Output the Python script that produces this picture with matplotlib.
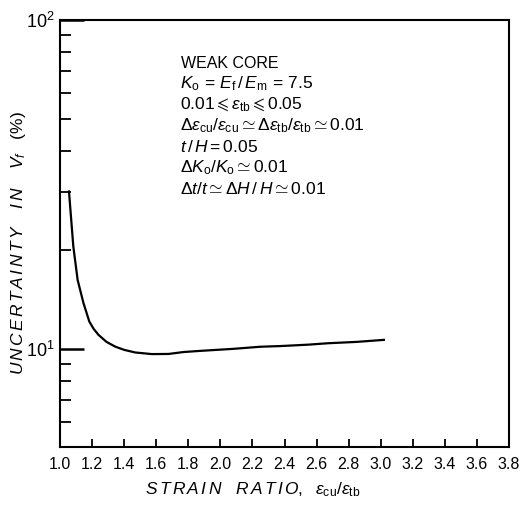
import matplotlib
matplotlib.use("Agg")
import matplotlib.pyplot as plt
from matplotlib import font_manager
from matplotlib.ticker import FixedLocator, NullFormatter, FixedFormatter

# Data
strain_ratio = [1.056, 1.083, 1.11, 1.146, 1.183, 1.21, 1.24, 1.29, 1.344, 1.40, 1.469,
                1.573, 1.677, 1.77, 1.875, 2.08, 2.25, 2.38, 2.55, 2.67, 2.85, 3.02]
uncertainty = [30.1, 20.5, 16.2, 13.8, 12.1, 11.5, 11.03, 10.5, 10.16, 9.93, 9.75,
               9.64, 9.65, 9.78, 9.86, 10.0, 10.15, 10.2, 10.3, 10.4, 10.5, 10.65]
x_ticks = [1.0, 1.2, 1.4, 1.6, 1.8, 2.0, 2.2, 2.4, 2.6, 2.8, 3.0, 3.2, 3.4, 3.6, 3.8]
y_minor = [6, 7, 8, 9, 20, 30, 40, 50, 60, 70, 80, 90]
annotation_title = "WEAK CORE"
annotation_lines = [
    r"$K_\mathrm{o}\,=\,E_\mathrm{f}\,/\,E_\mathrm{m}\,=\,\mathrm{7.5}$",
    r"$\mathrm{0.01}\leqslant\epsilon_\mathrm{tb}\leqslant\mathrm{0.05}$",
    r"$\Delta\epsilon_\mathrm{cu}/\epsilon_\mathrm{cu}\simeq\Delta\epsilon_\mathrm{tb}/\epsilon_\mathrm{tb}\simeq\mathrm{0.01}$",
    r"$t\,/\,H=\mathrm{0.05}$",
    r"$\Delta K_\mathrm{o}/K_\mathrm{o}\simeq\mathrm{0.01}$",
    r"$\Delta t/t\simeq\Delta H\,/\,H\simeq\mathrm{0.01}$",
]

names = {f.name for f in font_manager.fontManager.ttflist}
narrow = 'Liberation Sans Narrow' if 'Liberation Sans Narrow' in names else 'Liberation Sans'

plt.rcParams['font.family'] = ['Liberation Sans', 'DejaVu Sans']
plt.rcParams['mathtext.fontset'] = 'custom'
plt.rcParams['mathtext.rm'] = 'Liberation Sans'
plt.rcParams['mathtext.it'] = 'Liberation Sans:italic'
plt.rcParams['mathtext.sf'] = 'Liberation Sans'

fig = plt.figure(figsize=(5.2, 5.08), dpi=100)
ax = fig.add_axes([60/520, 1-447/508, (509-60)/520, (447-20)/508])

ax.plot(strain_ratio, uncertainty, color='black', lw=1.6)

ax.set_yscale('log')
ax.set_xlim(1.0, 3.8)
ax.set_ylim(5.03, 100)

ax.xaxis.set_major_locator(FixedLocator(x_ticks))
ax.set_xticklabels([f"{v:.1f}" for v in x_ticks], family=[narrow, 'DejaVu Sans'])
ax.yaxis.set_major_locator(FixedLocator([10, 100]))
ax.yaxis.set_major_formatter(FixedFormatter([r"$10^1$", r"$10^2$"]))
ax.yaxis.set_minor_locator(FixedLocator(y_minor))
ax.yaxis.set_minor_formatter(NullFormatter())

ax.tick_params(axis='x', which='major', direction='in', length=6, width=1.3,
               labelsize=11.5, pad=7, top=False)
ax.tick_params(axis='y', which='major', direction='in', length=17, width=1.8,
               labelsize=13, pad=4, right=False)
ax.tick_params(axis='y', which='minor', direction='in', length=8, width=1.3, right=False)
for s in ax.spines.values():
    s.set_linewidth(1.5)

fig.text(253/520, 1-490/508,
         r"$\mathit{S\,T\,R\,A\,I\,N\ \ \ R\,A\,T\,I\,O,}\ \ \epsilon_\mathrm{cu}/\epsilon_\mathrm{tb}$",
         ha='center', va='center', fontsize=12.5)
fig.text(19/520, 1-243/508,
         r"$\mathit{U\,N\,C\,E\,R\,T\,A\,I\,N\,T\,Y\ \ \ \ I\,N\ \ \ \ V_f\ \ \ (\%)}$",
         ha='center', va='center', rotation=90, fontsize=12.5)

fig.text(181/520, 1-63/508, annotation_title, ha='left', va='center', fontsize=11.5,
         family=[narrow, 'DejaVu Sans'])
for i, line in enumerate(annotation_lines):
    fig.text(180/520, 1-(84 + 21.0*i)/508, line, ha='left', va='center', fontsize=12.5)

fig.savefig("out.png", dpi=100)
